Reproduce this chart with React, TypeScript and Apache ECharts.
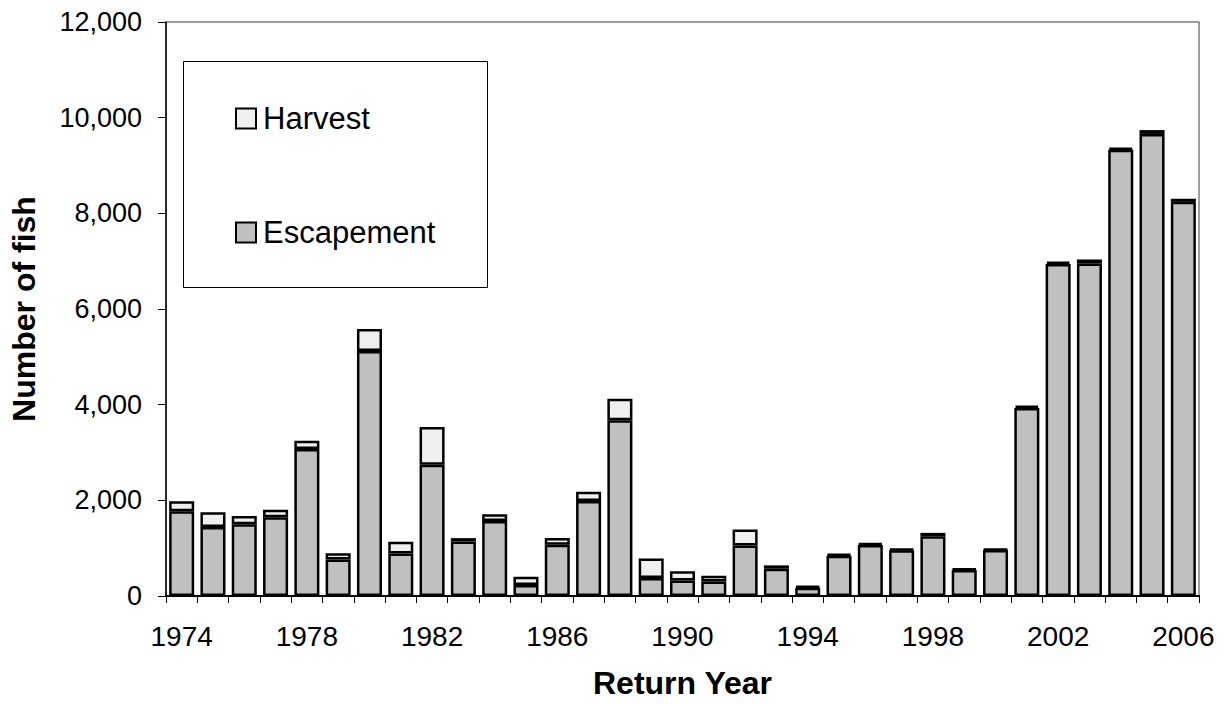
import React, { useEffect, useRef } from "react";
import * as echarts from "echarts";

const years: string[] = [
  "1974", "1975", "1976", "1977", "1978", "1979", "1980", "1981", "1982", "1983",
  "1984", "1985", "1986", "1987", "1988", "1989", "1990", "1991", "1992", "1993",
  "1994", "1995", "1996", "1997", "1998", "1999", "2000", "2001", "2002", "2003",
  "2004", "2005", "2006",
];

const escapement: number[] = [
  1770, 1440, 1500, 1645, 3075, 765, 5120, 890, 2745, 1140,
  1570, 230, 1070, 1985, 3675, 375, 325, 305, 1055, 570,
  175, 840, 1065, 955, 1250, 545, 960, 3930, 6940, 6950,
  9330, 9660, 8240,
];

const harvest: number[] = [
  210, 310, 175, 160, 170, 130, 460, 245, 790, 70,
  140, 175, 145, 195, 450, 410, 195, 120, 335, 70,
  35, 40, 40, 30, 70, 30, 25, 50, 50, 85,
  45, 80, 65,
];

const yTicks = { min: 0, max: 12000, interval: 2000 };

const FONT = "'Liberation Sans', Arial, sans-serif";

export default function App() {
  const ref = useRef<HTMLDivElement>(null);

  useEffect(() => {
    if (!ref.current) return;
    const chart = echarts.init(ref.current, null, { renderer: "svg" });
    chart.setOption({
      animation: false,
      backgroundColor: "#ffffff",
      textStyle: { fontFamily: FONT, color: "#000" },
      grid: {
        left: 166,
        top: 22,
        right: 26,
        bottom: 106,
        show: true,
        borderColor: "#808080",
        borderWidth: 1.5,
        backgroundColor: "transparent",
      },
      graphic: [
        {
          type: "rect",
          left: 183,
          top: 61,
          shape: { width: 304, height: 226 },
          style: { fill: "#ffffff", stroke: "#000", lineWidth: 1 },
          z: 10,
        },
      ],
      legend: {
        orient: "vertical",
        left: 235,
        top: 103,
        padding: 0,
        itemWidth: 20,
        itemHeight: 20,
        itemGap: 83,
        icon: "rect",
        z: 20,
        textStyle: {
          fontFamily: FONT,
          fontSize: 31,
          color: "#000",
          lineHeight: 30,
          padding: [0, 0, 0, 2],
        },
        data: [
          { name: "Harvest", itemStyle: { color: "#EFEFEF", borderColor: "#000", borderWidth: 2 } },
          { name: "Escapement", itemStyle: { color: "#C0C0C0", borderColor: "#000", borderWidth: 2 } },
        ],
      },
      xAxis: {
        type: "category",
        data: years,
        boundaryGap: true,
        name: "Return Year",
        nameLocation: "middle",
        nameGap: 71,
        nameTextStyle: { fontFamily: FONT, fontSize: 32, fontWeight: "bold", color: "#000" },
        axisLine: { show: true, lineStyle: { color: "#000", width: 2 } },
        axisTick: { show: true, interval: 0, length: 7, lineStyle: { color: "#000", width: 1 } },
        axisLabel: { interval: 3, margin: 26, fontFamily: FONT, fontSize: 28, color: "#000" },
        splitLine: { show: false },
      },
      yAxis: {
        type: "value",
        min: yTicks.min,
        max: yTicks.max,
        interval: yTicks.interval,
        name: "Number of fish",
        nameLocation: "middle",
        nameGap: 126,
        nameRotate: 90,
        nameTextStyle: { fontFamily: FONT, fontSize: 32, fontWeight: "bold", color: "#000" },
        axisLine: { show: true, lineStyle: { color: "#000", width: 1.5 } },
        axisTick: { show: true, length: 8, lineStyle: { color: "#000", width: 1 } },
        axisLabel: {
          margin: 24,
          fontFamily: FONT,
          fontSize: 27,
          color: "#000",
          formatter: (v: number) => v.toLocaleString("en-US"),
        },
        splitLine: { show: false },
      },
      series: [
        {
          name: "Escapement",
          type: "bar",
          stack: "total",
          data: escapement,
          barWidth: "80%",
          itemStyle: { color: "#C0C0C0", borderColor: "#000", borderWidth: 2.5 },
        },
        {
          name: "Harvest",
          type: "bar",
          stack: "total",
          data: harvest,
          barWidth: "80%",
          itemStyle: { color: "#EFEFEF", borderColor: "#000", borderWidth: 2.5 },
        },
      ],
    });
    return () => chart.dispose();
  }, []);

  return (
    <div
      ref={ref}
      style={{ position: "fixed", left: 0, top: 0, width: 1225, height: 704 }}
    />
  );
}
